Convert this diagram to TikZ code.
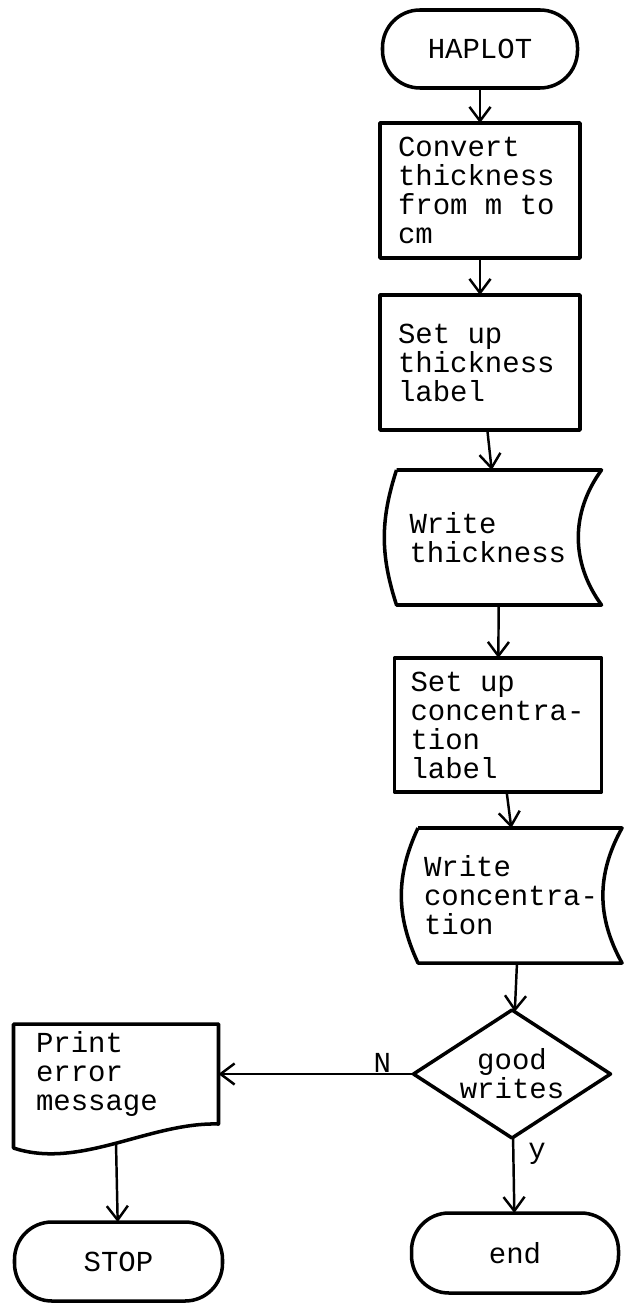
\documentclass[tikz,border=0pt]{standalone}
\usepackage{fontspec}
\setmonofont{Liberation Mono}
\usetikzlibrary{arrows.meta,positioning,calc,shapes.geometric}
% typewriter face of the chart
\newcommand{\flowfont}{\ttfamily\fontsize{16.5}{16.5}\selectfont}
% outline of a stored-data symbol round a node: #2 right bend, #3 left bend
\newcommand{\storedata}[3]{%
  \draw[outl] (#1.north west) -- (#1.north east) to[bend right=#2] (#1.south east)
    -- (#1.south west) to[bend left=#3] (#1.north west);}

\begin{document}
\begin{tikzpicture}[
  >={Straight Barb[length=8pt,width=12pt]},
  every node/.style={font=\flowfont, outer sep=0pt,
    execute at begin node={\spaceskip=0.6em\xspaceskip=0.6em}},
  outl/.style={line width=2pt, line join=round},
  term/.style={outl, draw, rectangle, rounded corners=0.75cm,
               minimum height=1.58cm, minimum width=#1},
  proc/.style={outl, draw, text width=#1, inner xsep=0.36cm, inner ysep=0.08cm,
               minimum height=2.7cm, align=left},
  store/.style={text width=#1, inner ysep=0.08cm, minimum height=2.7cm, align=left},
  deci/.style={outl, draw, diamond, shape aspect=1.54, inner sep=0pt,
               minimum width=3.94cm, minimum height=2.56cm, align=center},
  arr/.style={->, line width=1.4pt},
]
\useasboundingbox (0,0) rectangle (12.48,-26.22);

% Main column
\node[term=3.9cm, minimum height=1.56cm] (haplot) at (9.6,-0.98) {HAPLOT};
\node[proc=3.28cm, below=0.7cm of haplot] (conv) {Convert\\thickness\\from m to\\cm};
\node[proc=3.28cm, below=0.74cm of conv] (setthick) {Set up\\thickness\\label};
\node[store=3.58cm, inner xsep=0.26cm, below=0.8cm of setthick, xshift=0.38cm] (wthick) {Write\\thickness};
\node[proc=3.5cm, inner xsep=0.32cm, minimum height=2.68cm,
      below=1.06cm of wthick, xshift=-0.02cm] (setconc) {Set up\\concentra-\\tion\\label};
\node[store=3.84cm, inner xsep=0.12cm, below=0.72cm of setconc, xshift=0.44cm] (wconc) {Write\\concentra-\\tion};
\node[deci, below=0.94cm of wconc, xshift=-0.16cm] (good) {good\\writes};
\node[term=4.14cm, minimum height=1.6cm, below=1.5cm of good, xshift=0.06cm] (theend) {end};

% Error branch
\node[outl, text width=3.2cm, inner xsep=0.45cm, inner ysep=0.08cm, minimum height=2cm,
      align=left, left=3.9cm of good] (perr) {Print\\error\\message};
\node[term=4.16cm, below=1.96cm of perr, xshift=0.05cm] (stop) {STOP};

% Outlines of the special symbols
\storedata{wthick}{36}{18}
\storedata{wconc}{29}{25}
\draw[outl] (perr.north west) -- (perr.north east) -- (perr.south east)
  .. controls ($(perr.south east)+(-1.38,0.04)$) and ($(perr.south west)+(1.32,-0.92)$)
  .. ([yshift=-0.48cm]perr.south west) -- cycle;

% Flow
\draw[arr] (haplot) -- (conv);
\draw[arr] (conv) -- (setthick);
\draw[arr] (setthick) -- (wthick);
\draw[arr] (wthick) -- (setconc);
\draw[arr] (setconc) -- (wconc);
\draw[arr] (wconc) -- (good);
\draw[arr] (good.west) -- node[above, pos=0.16, inner sep=1pt] {N} (good.west -| perr.east);
\draw[arr] (good) -- node[right=0.3cm, pos=0.22, inner sep=0pt] {y} (theend);
\draw[arr] ([yshift=-0.38cm]perr.south) -- (stop);

\end{tikzpicture}
\end{document}
